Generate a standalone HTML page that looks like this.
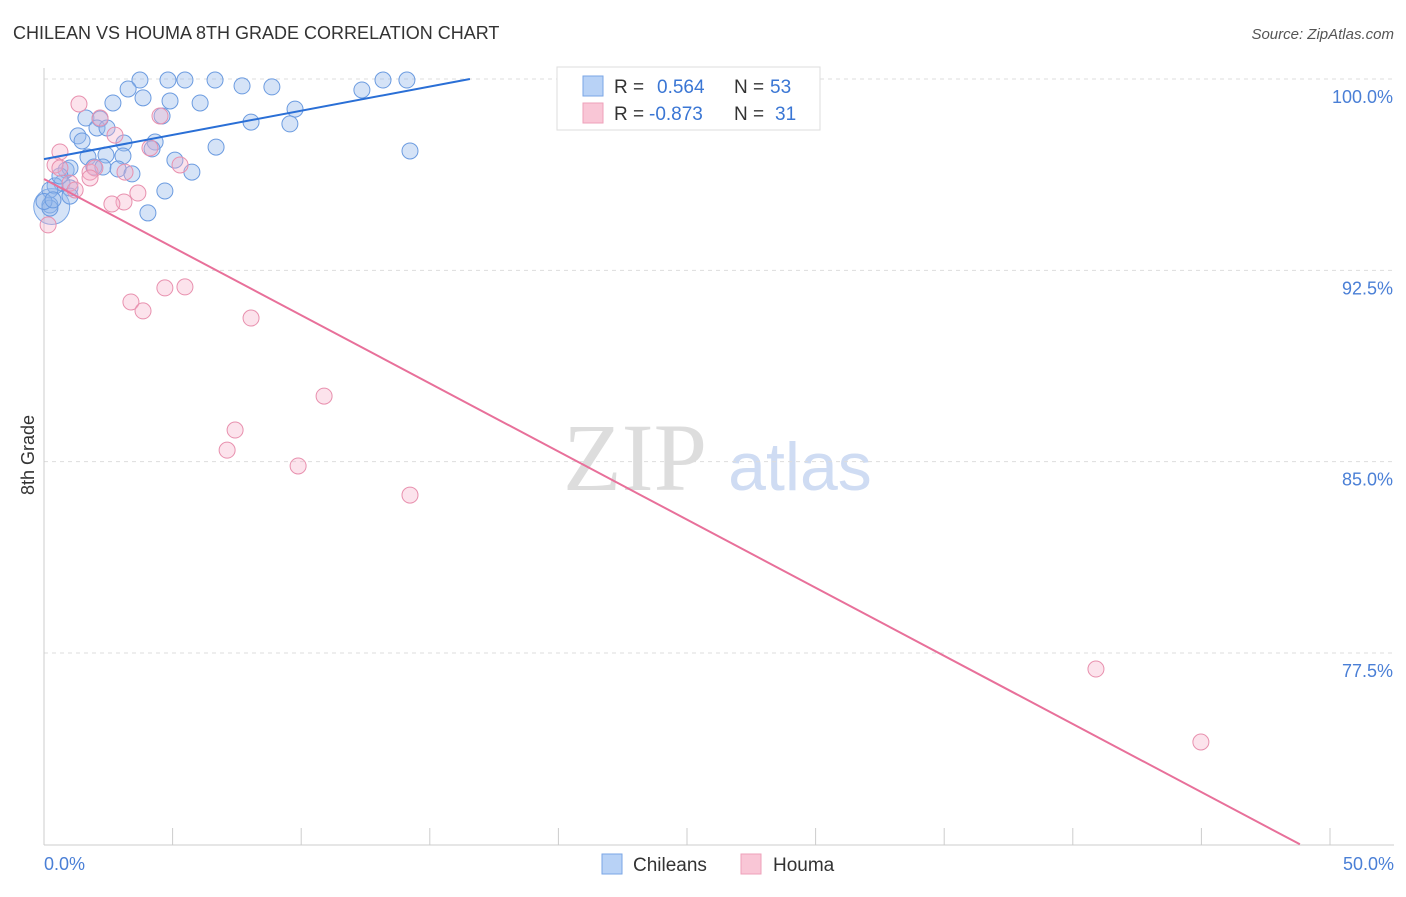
<!DOCTYPE html>
<html><head><meta charset="utf-8"><style>
body{margin:0;background:#fff;font-family:"Liberation Sans",sans-serif;}
</style></head><body>
<svg id="chart" width="1406" height="892" xmlns="http://www.w3.org/2000/svg" font-family="Liberation Sans, sans-serif">
<text x="13" y="39" font-size="18" fill="#333">CHILEAN VS HOUMA 8TH GRADE CORRELATION CHART</text>
<text x="1394" y="39" font-size="15" fill="#555" text-anchor="end" font-style="italic">Source: ZipAtlas.com</text>
<text x="635" y="490" font-size="96" fill="#ddd" font-family="Liberation Serif, serif" text-anchor="middle">ZIP</text>
<text x="800" y="490" font-size="68" fill="#cfdcf3" text-anchor="middle">atlas</text>
<text transform="translate(34,455) rotate(-90)" font-size="18" fill="#333" text-anchor="middle">8th Grade</text>
<g id="grid"></g><g id="axes"></g><g id="marks"></g>
<g>
<rect x="557" y="67" width="263" height="63" fill="#fff" stroke="#ddd"/>
<rect x="583" y="76" width="20" height="20" fill="#b8d2f6" stroke="#7aa6e6"/>
<rect x="583" y="103" width="20" height="20" fill="#f9c6d6" stroke="#eea0ba"/>
<text x="614" y="93" font-size="19" fill="#333">R =</text>
<text x="657" y="93" font-size="19" fill="#3a76d4">0.564</text>
<text x="734" y="93" font-size="19" fill="#333">N =</text>
<text x="770" y="93" font-size="19" fill="#3a76d4">53</text>
<text x="614" y="120" font-size="19" fill="#333">R =</text>
<text x="649" y="120" font-size="19" fill="#3a76d4">-0.873</text>
<text x="734" y="120" font-size="19" fill="#333">N =</text>
<text x="775" y="120" font-size="19" fill="#3a76d4">31</text>
</g>
<g>
<rect x="602" y="854" width="20" height="20" fill="#b8d2f6" stroke="#7aa6e6"/>
<text x="633" y="871" font-size="19" fill="#333">Chileans</text>
<rect x="741" y="854" width="20" height="20" fill="#f9c6d6" stroke="#eea0ba"/>
<text x="773" y="871" font-size="19" fill="#333">Houma</text>
</g>
</svg>
<script>
const blueX=[3.73,4.82,5.48,6.65,7.70,8.86,13.18,14.11,12.36,24.42,3.27,2.68,3.85,4.90,6.07,9.76,1.63,2.18,2.06,2.45,1.32,1.48,3.11,4.32,4.20,4.59,8.05,9.56,6.69,14.23,1.71,2.41,3.07,5.09,0.86,1.01,1.94,2.29,2.88,3.42,5.75,0.70,0.43,0.23,1.01,4.70,1.01,4.04,0.23,0.23,0.62,0.0,0.35];
const blueY=[99.96,99.96,99.96,99.96,99.73,99.69,99.96,99.96,99.57,99.96,99.61,99.06,99.26,99.14,99.06,98.82,98.47,98.43,98.08,98.08,97.77,97.57,97.49,97.53,97.26,98.55,98.31,98.24,97.33,97.18,96.94,97.02,96.98,96.82,96.43,96.51,96.55,96.55,96.47,96.28,96.35,95.92,95.81,95.65,95.73,95.61,95.41,94.75,95.06,94.94,96.20,95.2,95.26];
const pinkX=[1.36,4.51,2.76,2.18,0.62,0.43,1.79,1.98,3.15,5.29,1.01,1.21,3.65,3.11,2.64,4.12,0.16,3.38,3.85,4.70,5.48,8.05,10.89,7.43,7.12,9.88,14.23,40.90,44.98,0.62,1.79];
const pinkY=[99.02,98.55,97.80,98.47,97.14,96.63,96.35,96.51,96.35,96.63,95.92,95.65,95.53,95.18,95.10,97.30,94.28,91.26,90.91,91.81,91.85,90.63,87.57,86.24,85.45,84.83,83.69,76.87,74.01,96.51,96.12];
const blueLine=[[0,96.86],[16.56,100]];
const pinkLine=[[0,96.08],[48.83,70]];
const yTicks=[100,92.5,85,77.5];
const yTickLabels=["100.0%","92.5%","85.0%","77.5%"];
const xTicks=[0,5,10,15,20,25,30,35,40,45,50];
const sx=v=>44+v*25.72, sy=v=>79+(100-v)*25.51;
const NS="http://www.w3.org/2000/svg";
function mk(t,a,p){const e=document.createElementNS(NS,t);for(const k in a)e.setAttribute(k,a[k]);p.appendChild(e);return e;}
const grid=document.getElementById('grid'),axes=document.getElementById('axes'),marks=document.getElementById('marks');
yTicks.forEach((t,i)=>{
 const l=mk('line',{x1:44,x2:1394,y1:sy(t),y2:sy(t),stroke:'#ddd','stroke-dasharray':'4,4'},grid);
 
 
 const tx=mk('text',{x:1393,y:sy(t)+24,'font-size':18,fill:'#4a7fd6','text-anchor':'end'},axes);tx.textContent=yTickLabels[i];
 
 
});
const ax=mk('line',{x1:44,x2:1394,y1:845,y2:845,stroke:'#ccc'},axes);


const ay=mk('line',{x1:44,x2:44,y1:68,y2:845,stroke:'#ccc'},axes);


xTicks.forEach(t=>{const l=mk('line',{x1:sx(t),x2:sx(t),y1:828,y2:845,stroke:'#ccc'},axes);
 
 });
const x0=mk('text',{x:44,y:870,'font-size':18,fill:'#4a7fd6'},axes);x0.textContent='0.0%';


const x1=mk('text',{x:1394,y:870,'font-size':18,fill:'#4a7fd6','text-anchor':'end'},axes);x1.textContent='50.0%';


const bb=mk('circle',{cx:sx(0.3),cy:sy(95.0),r:18,fill:'rgba(150,185,235,0.4)',stroke:'#7aa6e6'},marks);


blueX.forEach((x,i)=>{const c=mk('circle',{cx:sx(x),cy:sy(blueY[i]),r:8,fill:'rgba(150,185,235,0.4)',stroke:'#6b9be0','stroke-width':1},marks);
 
 });
pinkX.forEach((x,i)=>{const c=mk('circle',{cx:sx(x),cy:sy(pinkY[i]),r:8,fill:'rgba(245,175,200,0.35)',stroke:'#e890ae','stroke-width':1},marks);
 
 });
const bl=mk('line',{x1:sx(blueLine[0][0]),y1:sy(blueLine[0][1]),x2:sx(blueLine[1][0]),y2:sy(blueLine[1][1]),stroke:'#2a6fd6','stroke-width':2},marks);


const pl=mk('line',{x1:sx(pinkLine[0][0]),y1:sy(pinkLine[0][1]),x2:sx(pinkLine[1][0]),y2:sy(pinkLine[1][1]),stroke:'#e8709a','stroke-width':2},marks);


</script>
</body></html>
